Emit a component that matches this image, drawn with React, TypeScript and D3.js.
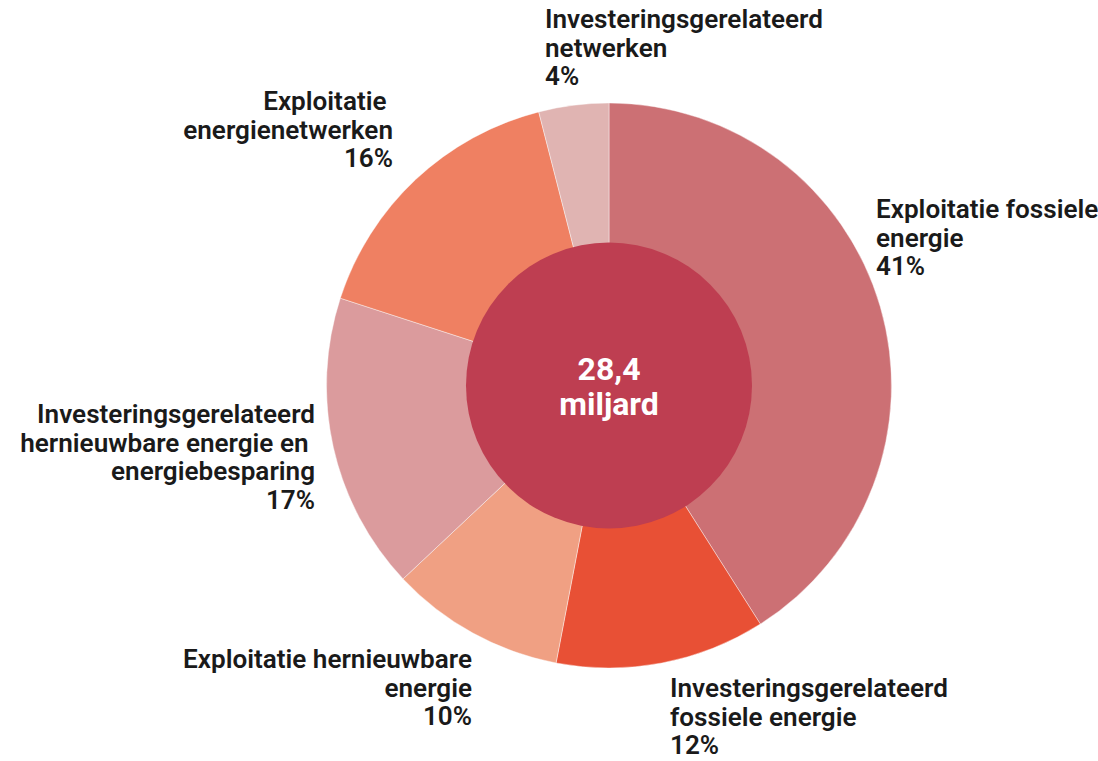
import React from "react";
import * as d3 from "d3";

const categories = [
  "Exploitatie fossiele energie",
  "Investeringsgerelateerd fossiele energie",
  "Exploitatie hernieuwbare energie",
  "Investeringsgerelateerd hernieuwbare energie en energiebesparing",
  "Exploitatie energienetwerken",
  "Investeringsgerelateerd netwerken",
];
const values = [41, 12, 10, 17, 16, 4];
const colors = ["#CC7074", "#E85035", "#F0A083", "#DB9B9D", "#EF8062", "#E0B4B2"];
const labelLines = [
  ["Exploitatie fossiele", "energie", "41%"],
  ["Investeringsgerelateerd", "fossiele energie", "12%"],
  ["Exploitatie hernieuwbare", "energie", "10%"],
  ["Investeringsgerelateerd", "hernieuwbare energie en ", "energiebesparing", "17%"],
  ["Exploitatie ", "energienetwerken", "16%"],
  ["Investeringsgerelateerd", "netwerken", "4%"],
];
const centerLines = ["28,4", "miljard"];

// layout (label anchor positions: x, first baseline y, text-anchor)
const labelLayout: [number, number, "start" | "end"][] = [
  [876, 218, "start"],
  [670, 697, "start"],
  [472, 668, "end"],
  [315, 423, "end"],
  [393, 110, "end"],
  [545, 28, "start"],
];

const W = 1098;
const H = 761;
const cx = 609;
const cy = 385.5;
const R = 282.5;
const r0 = 143;
const lineH = 28.5;
const sx = 1.045;

export default function App() {
  const pie = d3
    .pie<number>()
    .sort(null)
    .value((d) => d)
    .startAngle(0)
    .endAngle(2 * Math.PI);
  const arcs = pie(values);
  const arc = d3.arc<d3.PieArcDatum<number>>().innerRadius(0).outerRadius(R);

  return (
    <svg
      width={W}
      height={H}
      style={{ position: "absolute", left: 0, top: 0, background: "#fff" }}
    >
      <g transform={`translate(${cx},${cy})`}>
        {arcs.map((a, i) => (
          <path
            key={categories[i]}
            d={arc(a) || ""}
            fill={colors[i]}
            stroke="#fff"
            strokeWidth={0.6}
            strokeOpacity={0.7}
          />
        ))}
        <circle r={r0} fill="#BE3E51" />
        {centerLines.map((t, i) => (
          <text
            key={t}
            x={0}
            y={-5.5 + i * 35}
            textAnchor="middle"
            fill="#fff"
            fontFamily="Roboto"
            fontWeight={700}
            fontSize={32}
          >
            {t}
          </text>
        ))}
      </g>
      {labelLines.map((lines, i) => {
        const [x, y, anchor] = labelLayout[i];
        return (
          <g key={categories[i]}>
            {lines.map((t, j) => (
              <text
                key={j}
                transform={`translate(${x},${y + j * lineH}) scale(${sx},1)`}
                textAnchor={anchor}
                fill="#1a1a1a"
                fontFamily="Roboto"
                fontWeight={600}
                fontSize={25}
                style={{ whiteSpace: "pre" }}
              >
                {t}
              </text>
            ))}
          </g>
        );
      })}
    </svg>
  );
}
